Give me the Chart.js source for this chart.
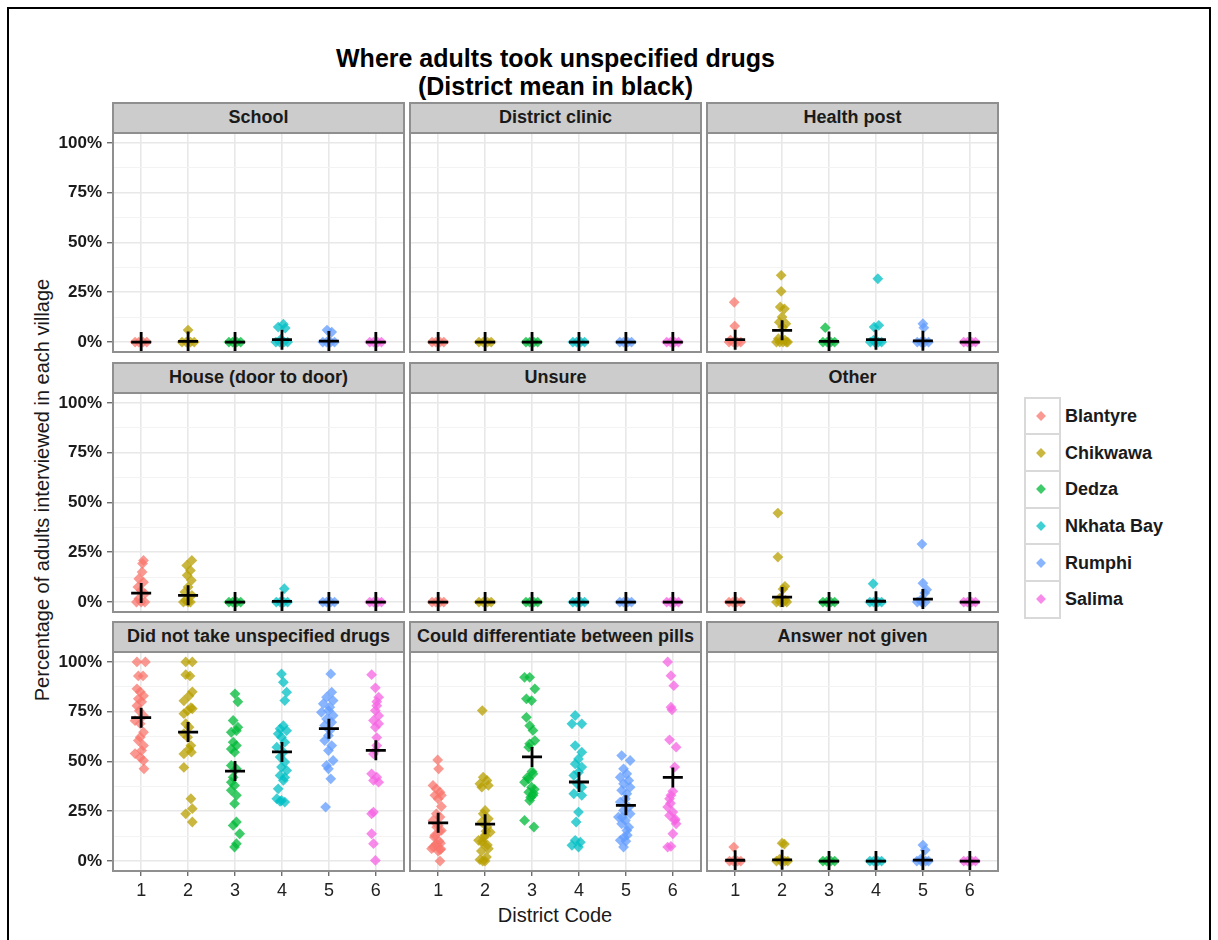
<!DOCTYPE html>
<html>
<head>
<meta charset="utf-8">
<script src="https://cdn.jsdelivr.net/npm/chart.js@4.4.1/dist/chart.umd.min.js"></script>
<style>
  body { margin: 0; background: #fff; font-family: "Liberation Sans", Arial, sans-serif; }
  #page { position: relative; width: 1218px; height: 940px; overflow: hidden; background: #fff; }
  .frame { position: absolute; left: 7px; top: 7px; width: 1204px; height: 980px; border: 2px solid #000; box-sizing: border-box; }
  .title { position: absolute; left: 113px; width: 885px; top: 44px; text-align: center; font-weight: bold; font-size: 25px; line-height: 28px; color: #000; }
  .strip { position: absolute; box-sizing: border-box; background: #cccccc; border: 2px solid #8f8f8f; text-align: center; font-weight: bold; font-size: 18px; line-height: 27px; color: #1a1a1a; white-space: nowrap; }
  .pborder { position: absolute; box-sizing: border-box; border: 2px solid #8f8f8f; pointer-events: none; }
  .cwrap { position: absolute; }
  .cwrap canvas { display: block; }
  .ytitle { position: absolute; left: 42px; top: 490px; transform: translate(-50%, -50%) rotate(-90deg); white-space: nowrap; font-size: 20px; color: #1a1a1a; }
  .xtitle { position: absolute; left: 555px; top: 915px; transform: translate(-50%, -50%); white-space: nowrap; font-size: 20px; color: #1a1a1a; }
  .lkey { position: absolute; left: 1024px; width: 37px; box-sizing: border-box; border: 2px solid #d9d9d9; background: #fff; }
  .lmark { position: absolute; width: 7px; height: 7px; transform: translate(-50%, -50%) rotate(45deg); }
  .ltext { position: absolute; left: 1065px; transform: translateY(-50%); font-weight: bold; font-size: 18px; color: #1a1a1a; white-space: nowrap; }
</style>
</head>
<body>
<div id="page">
  <div class="frame"></div>
  <div class="title">Where adults took unspecified drugs<br>(District mean in black)</div>
  <div class="ytitle">Percentage of adults interviewed in each village</div>
  <div class="xtitle">District Code</div>
</div>
<script>
// ---- data -------------------------------------------------------------
const districts = ['Blantyre', 'Chikwawa', 'Dedza', 'Nkhata Bay', 'Rumphi', 'Salima'];
const districtCodes = ['1', '2', '3', '4', '5', '6'];
const districtColors = ['#F8766D', '#B79F00', '#00BA38', '#00BFC4', '#619CFF', '#F564E3'];
const yTickValues = [0, 0.25, 0.5, 0.75, 1];
const yTickLabels = ['0%', '25%', '50%', '75%', '100%'];
const facetTitles = ['School', 'District clinic', 'Health post',
  'House (door to door)', 'Unsure', 'Other',
  'Did not take unspecified drugs', 'Could differentiate between pills', 'Answer not given'];

// villages: [district code (jittered), share of adults]
const schoolVillages = [
  [0.87, 0], [0.95, 0], [1.04, 0], [1.12, 0],
  [2.0, 0.06], [1.87, 0], [1.96, 0], [2.05, 0], [2.13, 0],
  [2.87, 0], [2.95, 0], [3.04, 0], [3.12, 0],
  [4.03, 0.09], [3.92, 0.075], [4.07, 0.07], [3.98, 0.015], [3.87, 0], [3.95, 0], [4.04, 0], [4.12, 0],
  [4.96, 0.06], [5.06, 0.05], [4.87, 0], [4.95, 0], [5.04, 0], [5.12, 0],
  [5.87, 0], [5.95, 0], [6.04, 0], [6.12, 0]
];
const schoolMeans = [0, 0.003, 0, 0.012, 0.005, 0];

const clinicVillages = [
  [0.87, 0], [0.95, 0], [1.04, 0], [1.12, 0],
  [1.87, 0], [1.96, 0], [2.05, 0], [2.13, 0],
  [2.87, 0], [2.95, 0], [3.04, 0], [3.12, 0],
  [3.87, 0], [3.95, 0], [4.04, 0], [4.12, 0],
  [4.87, 0], [4.95, 0], [5.04, 0], [5.12, 0],
  [5.87, 0], [5.95, 0], [6.04, 0], [6.12, 0]
];
const clinicMeans = [0, 0, 0, 0, 0, 0];

const healthPostVillages = [
  [0.98, 0.20], [0.99, 0.08], [0.9, 0.01], [0.87, 0], [0.96, 0], [1.05, 0], [1.12, 0],
  [1.98, 0.335], [1.98, 0.255], [1.96, 0.176], [2.05, 0.167], [2.0, 0.126], [1.94, 0.10], [2.08, 0.092],
  [2.01, 0.075], [1.92, 0.017], [2.06, 0.01], [1.88, 0], [1.95, 0], [2.02, 0], [2.09, 0], [2.12, 0],
  [2.92, 0.072], [2.87, 0], [2.96, 0], [3.04, 0], [3.12, 0],
  [4.04, 0.318], [3.96, 0.075], [4.06, 0.084], [3.95, 0.01], [3.88, 0], [3.97, 0], [4.05, 0], [4.12, 0],
  [5.0, 0.092], [5.02, 0.072], [4.88, 0], [4.96, 0], [5.04, 0], [5.12, 0],
  [5.87, 0], [5.95, 0], [6.04, 0], [6.12, 0]
];
const healthPostMeans = [0.012, 0.059, 0.003, 0.012, 0.006, 0];

const houseVillages = [
  [1.05, 0.209], [1.03, 0.193], [1.02, 0.151], [0.95, 0.117], [1.05, 0.10], [0.93, 0.075], [1.0, 0.059],
  [1.08, 0.042], [0.95, 0.017], [1.08, 0], [0.9, 0], [1.0, 0],
  [2.08, 0.209], [1.97, 0.184], [2.05, 0.159], [1.98, 0.134], [2.07, 0.109], [2.0, 0.075], [1.93, 0.05],
  [2.08, 0.034], [1.95, 0.008], [2.05, 0], [1.9, 0], [2.0, 0],
  [2.87, 0], [2.95, 0], [3.04, 0], [3.12, 0],
  [4.05, 0.067], [3.88, 0], [3.96, 0], [4.04, 0], [4.12, 0],
  [4.87, 0], [4.95, 0], [5.04, 0], [5.12, 0],
  [5.87, 0], [5.95, 0], [6.04, 0], [6.12, 0]
];
const houseMeans = [0.045, 0.034, 0, 0.003, 0, 0];

const unsureVillages = [
  [0.87, 0], [0.95, 0], [1.04, 0], [1.12, 0],
  [1.87, 0], [1.96, 0], [2.05, 0], [2.13, 0],
  [2.87, 0], [2.95, 0], [3.04, 0], [3.12, 0],
  [3.87, 0], [3.95, 0], [4.04, 0], [4.12, 0],
  [4.87, 0], [4.95, 0], [5.04, 0], [5.12, 0],
  [5.87, 0], [5.95, 0], [6.04, 0], [6.12, 0]
];
const unsureMeans = [0, 0, 0, 0, 0, 0];

const otherVillages = [
  [0.87, 0], [0.95, 0], [1.04, 0], [1.12, 0],
  [1.91, 0.447], [1.91, 0.226], [2.06, 0.079], [2.02, 0.065], [1.95, 0.02], [2.07, 0.01],
  [1.88, 0], [1.96, 0], [2.03, 0], [2.1, 0],
  [2.87, 0], [2.95, 0], [3.04, 0], [3.12, 0],
  [3.94, 0.092], [3.87, 0], [3.95, 0], [4.04, 0], [4.12, 0],
  [4.98, 0.291], [5.0, 0.095], [5.08, 0.062], [5.04, 0.045], [4.95, 0.01], [4.88, 0], [4.97, 0], [5.05, 0],
  [5.87, 0], [5.95, 0], [6.04, 0], [6.12, 0]
];
const otherMeans = [0, 0.025, 0, 0.004, 0.015, 0];

const notTakenVillages = [
  [0.91, 1.0], [1.09, 1.0], [0.94, 0.93], [1.04, 0.93], [0.91, 0.865], [0.98, 0.85], [1.05, 0.83],
  [0.94, 0.815], [1.01, 0.80], [0.91, 0.78], [0.96, 0.755], [1.05, 0.73], [0.87, 0.705], [0.98, 0.69],
  [1.05, 0.647], [0.98, 0.622], [0.94, 0.605], [1.05, 0.58], [1.01, 0.555], [0.87, 0.54], [0.98, 0.52],
  [1.05, 0.505], [1.06, 0.463],
  [1.95, 1.0], [2.09, 1.0], [1.95, 0.936], [2.04, 0.93], [2.09, 0.85], [2.02, 0.83], [1.91, 0.805],
  [2.06, 0.77], [1.99, 0.755], [1.91, 0.74], [2.09, 0.765], [1.95, 0.69], [2.02, 0.672], [1.91, 0.64],
  [1.99, 0.622], [2.06, 0.58], [2.02, 0.563], [1.91, 0.538], [2.07, 0.547], [1.91, 0.47], [2.06, 0.313],
  [2.09, 0.263], [1.95, 0.237], [2.09, 0.196],
  [3.0, 0.84], [3.06, 0.80], [2.96, 0.706], [3.06, 0.672], [3.03, 0.655], [2.92, 0.647], [2.96, 0.597],
  [3.03, 0.58], [2.92, 0.563], [2.99, 0.547], [2.92, 0.48], [3.03, 0.463], [2.96, 0.421], [2.92, 0.396],
  [2.99, 0.38], [2.92, 0.355], [3.03, 0.33], [2.99, 0.288], [3.03, 0.196], [2.96, 0.179], [3.1, 0.137],
  [3.03, 0.087], [2.99, 0.07],
  [3.99, 0.94], [4.03, 0.898], [4.1, 0.848], [4.06, 0.806], [4.03, 0.68], [3.96, 0.664], [4.1, 0.655],
  [3.92, 0.639], [3.99, 0.622], [4.06, 0.597], [3.89, 0.572], [4.03, 0.547], [3.96, 0.522], [4.06, 0.497],
  [3.99, 0.472], [4.1, 0.455], [3.96, 0.43], [4.06, 0.42], [4.03, 0.405], [3.92, 0.363], [3.89, 0.313],
  [4.06, 0.296], [3.99, 0.304], [3.96, 0.30],
  [5.04, 0.94], [5.06, 0.848], [4.95, 0.823], [5.09, 0.806], [4.88, 0.79], [5.02, 0.773], [4.99, 0.756],
  [4.84, 0.747], [5.09, 0.731], [4.95, 0.714], [5.06, 0.697], [4.91, 0.681], [5.02, 0.656], [4.99, 0.63],
  [4.91, 0.605], [5.06, 0.58], [4.99, 0.555], [5.09, 0.505], [4.95, 0.48], [4.99, 0.463], [5.04, 0.413],
  [4.93, 0.271],
  [5.91, 0.936], [5.99, 0.87], [6.06, 0.823], [6.02, 0.80], [6.02, 0.78], [5.99, 0.756], [6.06, 0.73],
  [5.95, 0.706], [6.06, 0.69], [5.99, 0.672], [6.02, 0.62], [6.02, 0.58], [5.99, 0.555], [5.95, 0.538],
  [5.91, 0.438], [6.02, 0.421], [5.95, 0.405], [6.06, 0.396], [5.95, 0.246], [5.91, 0.237], [5.91, 0.137],
  [5.95, 0.087], [5.99, 0.003]
];
const notTakenMeans = [0.72, 0.648, 0.452, 0.548, 0.665, 0.556];

const pillsVillages = [
  [0.99, 0.508], [1.01, 0.463], [0.89, 0.38], [0.96, 0.363], [1.04, 0.346], [0.93, 0.33], [1.07, 0.33],
  [1.0, 0.313], [1.07, 0.274], [0.96, 0.237], [1.04, 0.221], [0.89, 0.204], [1.0, 0.179], [1.07, 0.154],
  [0.93, 0.129], [0.96, 0.087], [0.86, 0.062], [1.04, 0.057], [1.04, 0.0], [1.02, 0.10], [0.95, 0.08],
  [1.06, 0.06], [0.92, 0.12], [1.03, 0.15], [0.97, 0.17], [1.0, 0.05], [0.9, 0.07], [1.05, 0.09],
  [1.94, 0.756], [1.96, 0.421], [2.04, 0.405], [1.89, 0.388], [2.07, 0.38], [1.93, 0.371], [2.0, 0.254],
  [1.96, 0.237], [2.07, 0.212], [1.93, 0.196], [2.04, 0.171], [2.11, 0.145], [2.0, 0.129], [1.86, 0.104],
  [1.96, 0.087], [2.07, 0.062], [1.89, 0.007], [2.0, 0.0], [1.95, 0.0], [2.03, 0.02], [1.92, 0.05],
  [2.05, 0.08], [1.98, 0.12], [2.02, 0.15], [1.94, 0.10],
  [2.84, 0.923], [2.95, 0.923], [3.06, 0.865], [2.88, 0.815], [2.99, 0.806], [2.88, 0.722], [2.95, 0.68],
  [3.02, 0.656], [3.06, 0.605], [2.95, 0.589], [2.93, 0.572], [3.02, 0.438], [2.93, 0.413], [2.84, 0.396],
  [2.99, 0.371], [2.93, 0.346], [3.02, 0.33], [2.95, 0.304], [2.84, 0.204], [3.04, 0.171], [3.0, 0.45],
  [2.9, 0.42], [3.05, 0.36], [2.97, 0.32], [3.03, 0.34],
  [3.92, 0.731], [3.85, 0.689], [4.06, 0.689], [3.92, 0.58], [4.06, 0.547], [3.99, 0.513], [3.92, 0.488],
  [4.06, 0.472], [3.99, 0.446], [3.89, 0.43], [3.96, 0.388], [4.06, 0.371], [3.89, 0.338], [4.06, 0.33],
  [3.99, 0.246], [3.94, 0.196], [3.92, 0.104], [4.03, 0.095], [3.85, 0.079], [3.99, 0.07],
  [4.91, 0.53], [5.09, 0.505], [4.95, 0.463], [5.02, 0.438], [4.88, 0.421], [5.06, 0.405], [4.95, 0.388],
  [5.09, 0.371], [4.91, 0.355], [5.02, 0.338], [4.99, 0.313], [4.88, 0.296], [5.06, 0.271], [4.95, 0.254],
  [5.09, 0.237], [4.84, 0.221], [4.99, 0.204], [4.91, 0.187], [5.02, 0.154], [4.88, 0.104], [4.95, 0.07],
  [5.03, 0.13], [4.96, 0.12], [5.06, 0.17], [4.92, 0.22], [5.0, 0.10],
  [5.89, 1.0], [5.96, 0.931], [6.02, 0.881], [5.96, 0.773], [5.98, 0.76], [5.93, 0.609], [6.07, 0.572],
  [6.04, 0.472], [5.96, 0.33], [5.93, 0.313], [5.89, 0.271], [6.0, 0.246], [5.93, 0.229], [6.04, 0.204],
  [6.07, 0.187], [6.0, 0.137], [5.96, 0.074], [5.89, 0.07], [6.0, 0.35], [5.95, 0.29], [6.05, 0.21]
];
const pillsMeans = [0.192, 0.185, 0.523, 0.397, 0.28, 0.42];

const noAnswerVillages = [
  [0.97, 0.07], [0.88, 0], [0.96, 0], [1.05, 0], [1.12, 0],
  [2.0, 0.09], [2.05, 0.085], [1.95, 0.01], [1.88, 0], [1.97, 0], [2.06, 0], [2.12, 0],
  [2.87, 0], [2.95, 0], [3.04, 0], [3.12, 0],
  [3.87, 0], [3.95, 0], [4.04, 0], [4.12, 0],
  [5.0, 0.08], [5.05, 0.055], [4.95, 0.01], [4.87, 0], [4.96, 0], [5.06, 0], [5.12, 0],
  [5.87, 0], [5.95, 0], [6.04, 0], [6.12, 0]
];
const noAnswerMeans = [0.004, 0.006, 0, 0, 0.005, 0];

const facetVillages = [schoolVillages, clinicVillages, healthPostVillages, houseVillages, unsureVillages,
  otherVillages, notTakenVillages, pillsVillages, noAnswerVillages];
const facetMeans = [schoolMeans, clinicMeans, healthPostMeans, houseMeans, unsureMeans,
  otherMeans, notTakenMeans, pillsMeans, noAnswerMeans];

// ---- layout -----------------------------------------------------------
const colLeft = [113, 410, 707];
const rowTop = [133, 393, 652];
const plotW = 291, plotH = 219;
const stripH = 31;
const yAxisW = 60, xAxisH = 40;
const FONT = '"Liberation Sans", Arial, sans-serif';

Chart.defaults.font.family = FONT;
const page = document.getElementById('page');

function withAlpha(hex, a) {
  const n = parseInt(hex.slice(1), 16);
  return `rgba(${(n >> 16) & 255}, ${(n >> 8) & 255}, ${n & 255}, ${a})`;
}
const isMajorY = v => yTickValues.some(t => Math.abs(t - v) < 1e-6);

facetTitles.forEach((title, i) => {
  const r = Math.floor(i / 3), c = i % 3;
  const showY = c === 0, showX = r === 2;

  const strip = document.createElement('div');
  strip.className = 'strip';
  Object.assign(strip.style, { left: (colLeft[c] - 1) + 'px', top: (rowTop[r] - stripH) + 'px',
    width: (plotW + 2) + 'px', height: (stripH + 1) + 'px' });
  strip.textContent = title;
  page.appendChild(strip);

  const wrap = document.createElement('div');
  wrap.className = 'cwrap';
  const cw = plotW + (showY ? yAxisW : 0), ch = plotH + (showX ? xAxisH : 0);
  Object.assign(wrap.style, { left: (colLeft[c] - (showY ? yAxisW : 0)) + 'px', top: rowTop[r] + 'px',
    width: cw + 'px', height: ch + 'px' });
  const canvas = document.createElement('canvas');
  canvas.width = cw; canvas.height = ch;
  wrap.appendChild(canvas);
  page.appendChild(wrap);

  const border = document.createElement('div');
  border.className = 'pborder';
  Object.assign(border.style, { left: (colLeft[c] - 1) + 'px', top: (rowTop[r] - 1) + 'px',
    width: (plotW + 2) + 'px', height: (plotH + 2) + 'px' });
  page.appendChild(border);

  const villages = facetVillages[i];
  const datasets = districts.map((name, k) => ({
    label: name,
    data: villages.filter(p => Math.round(p[0]) === k + 1).map(p => ({ x: p[0], y: p[1] })),
    pointStyle: 'rectRot',
    pointRadius: 5.4,
    backgroundColor: withAlpha(districtColors[k], 0.75),
    borderWidth: 0,
    order: 1
  }));
  datasets.push({
    label: 'District mean',
    data: facetMeans[i].map((m, k) => ({ x: k + 1, y: m })),
    pointStyle: 'cross',
    pointRadius: 10,
    borderColor: '#000',
    borderWidth: 2.8,
    order: 0
  });

  new Chart(canvas, {
    type: 'scatter',
    data: { datasets },
    options: {
      responsive: false,
      animation: false,
      events: [],
      clip: false,
      layout: { padding: 0, autoPadding: false },
      plugins: { legend: { display: false }, tooltip: { enabled: false } },
      scales: {
        x: {
          type: 'linear', min: 0.4, max: 6.6,
          afterBuildTicks: s => { s.ticks = districtCodes.map((_, k) => ({ value: k + 1 })); },
          afterFit: s => { s.height = showX ? xAxisH : 0; s.paddingLeft = 0; s.paddingRight = 0; },
          border: { display: false },
          grid: { color: '#e8e8e8', lineWidth: 1.6, drawTicks: showX, tickLength: 5, tickColor: '#333', tickWidth: 1 },
          ticks: { display: showX, padding: 4, color: '#222', font: { size: 18 },
            maxRotation: 0, autoSkip: false,
            callback: v => districtCodes[Math.round(v) - 1] }
        },
        y: {
          type: 'linear', min: -0.05, max: 1.05,
          afterBuildTicks: s => {
            const t = [];
            yTickValues.forEach((v, k) => { t.push({ value: v }); if (k < yTickValues.length - 1) t.push({ value: (v + yTickValues[k + 1]) / 2 }); });
            s.ticks = t;
          },
          afterFit: s => { s.width = showY ? yAxisW : 0; s.paddingTop = 0; s.paddingBottom = 0; },
          border: { display: false },
          grid: {
            color: ctx => isMajorY(ctx.tick.value) ? '#e8e8e8' : '#f3f3f3',
            lineWidth: ctx => isMajorY(ctx.tick.value) ? 1.6 : 1,
            drawTicks: showY, tickLength: 6, tickWidth: 1,
            tickColor: ctx => isMajorY(ctx.tick.value) ? '#333' : 'rgba(0,0,0,0)'
          },
          ticks: { display: showY, padding: 5, color: '#1a1a1a', font: { size: 17, weight: 'bold' },
            autoSkip: false,
            callback: v => {
              const k = yTickValues.findIndex(t => Math.abs(t - v) < 1e-6);
              return k >= 0 ? yTickLabels[k] : '';
            } }
        }
      }
    }
  });
});

// ---- legend -----------------------------------------------------------
const legendTop = 396.7, keyH = 36.67;
districts.forEach((name, k) => {
  const key = document.createElement('div');
  key.className = 'lkey';
  Object.assign(key.style, { top: (legendTop + k * keyH) + 'px', height: (keyH + 2) + 'px' });
  page.appendChild(key);
  const mark = document.createElement('div');
  mark.className = 'lmark';
  Object.assign(mark.style, { left: '1041px', top: (legendTop + k * keyH + keyH / 2 + 1) + 'px',
    background: withAlpha(districtColors[k], 0.75) });
  page.appendChild(mark);
  const label = document.createElement('div');
  label.className = 'ltext';
  Object.assign(label.style, { top: (legendTop + k * keyH + keyH / 2 + 1) + 'px' });
  label.textContent = name;
  page.appendChild(label);
});
</script>
</body>
</html>
